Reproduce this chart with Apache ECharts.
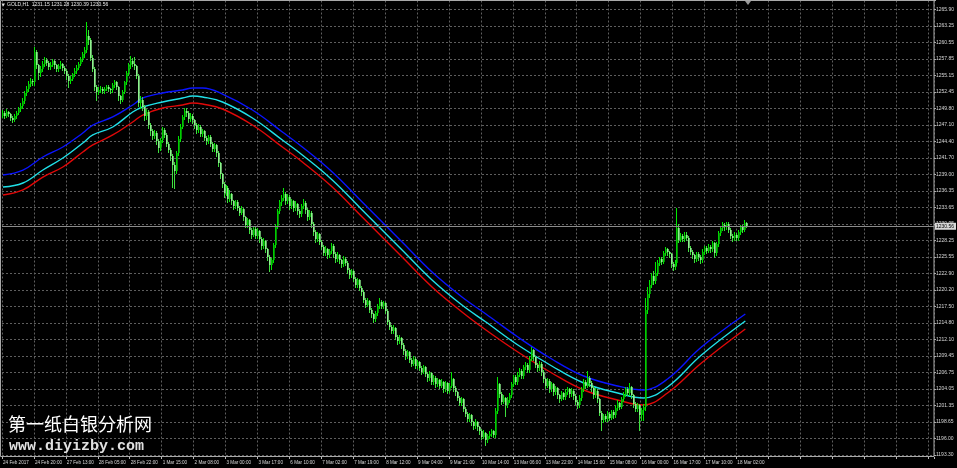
<!DOCTYPE html>
<html><head><meta charset="utf-8">
<style>html,body{margin:0;padding:0;background:#000;}#c{width:957px;height:468px;}</style>
<script src="https://cdn.jsdelivr.net/npm/echarts@6/dist/echarts.min.js"></script>
</head><body><div id="c"></div>
<script>
// x-axis tick labels (one every 16 bars)
const timeLabels = ["24 Feb 2017","24 Feb 20:00","27 Feb 13:00","28 Feb 05:00","28 Feb 22:00","1 Mar 15:00","2 Mar 08:00","3 Mar 00:00","3 Mar 17:00","6 Mar 10:00","7 Mar 02:00","7 Mar 19:00","8 Mar 12:00","9 Mar 04:00","9 Mar 21:00","10 Mar 14:00","13 Mar 06:00","13 Mar 22:00","14 Mar 15:00","15 Mar 08:00","16 Mar 00:00","16 Mar 17:00","17 Mar 10:00","18 Mar 02:00"];
// y-axis tick labels, bottom to top
const priceLabels = ["1193.30","1196.00","1198.65","1201.35","1204.05","1206.75","1209.45","1212.10","1214.80","1217.50","1220.20","1222.90","1225.55","1228.25","1230.95","1233.65","1236.35","1239.00","1241.70","1244.40","1247.10","1249.80","1252.45","1255.15","1257.85","1260.55","1263.25","1265.90"];
const priceMin = 1193.30, priceMax = 1267.335, priceStep = 2.68889;
const slotCount = 467;
// H1 candles: [open, close, low, high]
const candles = [
[1248.6,1249.0,1248.3,1249.5],[1249.0,1248.6,1248.2,1249.3],[1248.6,1249.2,1248.4,1249.7],[1249.2,1248.8,1248.5,1249.4],[1248.8,1248.2,1247.9,1249.0],
[1248.2,1247.9,1247.5,1248.5],[1247.9,1248.5,1247.7,1248.8],[1248.5,1249.0,1248.2,1249.3],[1249.0,1249.6,1248.8,1250.0],[1249.6,1250.2,1249.3,1250.6],
[1250.2,1251.0,1249.9,1251.4],[1251.0,1252.3,1250.7,1252.6],[1252.3,1253.0,1251.9,1253.4],[1253.0,1253.8,1252.6,1254.2],[1253.8,1254.2,1253.4,1254.7],
[1254.2,1254.0,1253.5,1254.6],[1254.0,1258.9,1253.6,1259.8],[1258.9,1256.8,1256.4,1259.2],[1256.8,1255.5,1254.5,1257.0],[1255.5,1256.2,1255.1,1256.6],
[1256.2,1257.0,1255.9,1257.4],[1257.0,1257.6,1256.7,1258.1],[1257.6,1257.2,1256.8,1257.9],[1257.2,1256.5,1256.1,1257.5],[1256.5,1256.9,1256.2,1257.3],
[1256.9,1257.4,1256.6,1257.8],[1257.4,1256.8,1256.4,1257.7],[1256.8,1256.2,1255.8,1257.0],[1256.2,1256.6,1255.9,1257.0],[1256.6,1257.0,1256.3,1257.5],
[1257.0,1256.4,1256.0,1257.2],[1256.4,1255.9,1255.5,1256.7],[1255.9,1255.0,1254.6,1256.1],[1255.0,1254.2,1253.3,1255.3],[1254.2,1254.6,1253.9,1255.0],
[1254.6,1255.3,1254.4,1255.6],[1255.3,1255.8,1255.0,1256.3],[1255.8,1256.4,1255.5,1256.8],[1256.4,1257.0,1256.1,1257.3],[1257.0,1257.8,1256.8,1258.2],
[1257.8,1258.6,1257.5,1258.9],[1258.6,1259.2,1258.2,1259.8],[1259.2,1261.5,1259.0,1263.8],[1261.5,1260.9,1260.2,1262.5],[1260.9,1258.0,1257.6,1261.2],
[1258.0,1256.2,1255.8,1258.4],[1256.2,1253.2,1252.8,1256.5],[1253.2,1252.4,1251.1,1253.6],[1252.4,1252.8,1252.1,1253.2],[1252.8,1253.0,1252.5,1253.4],
[1253.0,1252.6,1252.2,1253.2],[1252.6,1252.9,1252.3,1253.2],[1252.9,1253.3,1252.7,1253.6],[1253.3,1253.0,1252.6,1253.5],[1253.0,1252.7,1252.3,1253.1],
[1252.7,1253.6,1252.5,1253.9],[1253.6,1254.0,1253.3,1254.4],[1254.0,1253.2,1252.9,1254.2],[1253.2,1251.8,1251.2,1253.4],[1251.8,1251.2,1250.7,1252.0],
[1251.2,1252.5,1250.9,1252.8],[1252.5,1254.0,1252.2,1254.3],[1254.0,1255.5,1253.7,1255.8],[1255.5,1256.8,1255.2,1257.1],[1256.8,1257.5,1256.4,1258.3],
[1257.5,1257.0,1256.6,1257.9],[1257.0,1256.6,1256.2,1258.1],[1256.6,1255.0,1254.7,1256.9],[1255.0,1250.6,1250.2,1255.3],[1250.6,1251.2,1249.8,1251.7],
[1251.2,1250.0,1249.5,1251.6],[1250.0,1248.5,1247.9,1250.3],[1248.5,1249.2,1248.0,1249.7],[1249.2,1247.0,1246.5,1249.5],[1247.0,1246.0,1245.4,1247.3],
[1246.0,1245.2,1244.8,1246.4],[1245.2,1245.8,1244.9,1246.2],[1245.8,1244.5,1244.0,1246.0],[1244.5,1243.3,1242.7,1244.8],[1243.3,1244.6,1243.0,1245.0],
[1244.6,1246.3,1244.3,1246.8],[1246.3,1245.5,1245.1,1246.6],[1245.5,1244.0,1243.6,1245.8],[1244.0,1243.0,1242.6,1244.3],[1243.0,1242.0,1241.4,1243.3],
[1242.0,1240.5,1237.0,1242.3],[1240.5,1239.5,1236.8,1241.0],[1239.5,1242.5,1239.2,1242.8],[1242.5,1244.8,1242.2,1245.2],[1244.8,1246.8,1244.5,1247.2],
[1246.8,1248.3,1246.5,1248.7],[1248.3,1249.4,1248.0,1249.9],[1249.4,1249.0,1248.6,1249.8],[1249.0,1248.0,1247.6,1249.3],[1248.0,1248.6,1247.7,1249.0],
[1248.6,1247.8,1247.4,1248.9],[1247.8,1247.0,1246.6,1248.1],[1247.0,1246.2,1245.8,1247.3],[1246.2,1246.8,1245.9,1247.2],[1246.8,1245.6,1245.2,1247.0],
[1245.6,1246.0,1245.3,1246.4],[1246.0,1245.0,1244.6,1246.3],[1245.0,1244.4,1244.0,1245.3],[1244.4,1245.1,1244.1,1245.5],[1245.1,1244.0,1243.6,1245.4],
[1244.0,1243.2,1242.8,1244.3],[1243.2,1243.8,1242.9,1244.2],[1243.8,1242.5,1242.0,1244.0],[1242.5,1240.8,1240.3,1242.8],[1240.8,1239.0,1238.5,1241.1],
[1239.0,1237.5,1237.0,1239.3],[1237.5,1236.0,1235.4,1237.8],[1236.0,1236.8,1235.6,1237.2],[1236.8,1235.0,1234.5,1237.1],[1235.0,1235.8,1234.7,1236.4],
[1235.8,1234.6,1234.2,1236.0],[1234.6,1233.8,1233.4,1234.9],[1233.8,1234.5,1233.5,1234.9],[1234.5,1233.6,1233.2,1234.8],[1233.6,1232.8,1232.4,1233.9],
[1232.8,1233.4,1232.5,1233.8],[1233.4,1232.0,1231.6,1233.6],[1232.0,1230.8,1230.4,1232.3],[1230.8,1231.5,1230.5,1231.9],[1231.5,1230.0,1229.5,1231.7],
[1230.0,1229.2,1228.7,1230.3],[1229.2,1230.1,1228.9,1230.5],[1230.1,1229.0,1228.6,1230.4],[1229.0,1229.8,1228.7,1230.3],[1229.8,1228.5,1228.0,1230.0],
[1228.5,1227.3,1226.8,1228.8],[1227.3,1228.2,1227.0,1228.6],[1228.2,1226.8,1226.3,1228.4],[1226.8,1225.5,1225.0,1227.1],[1225.5,1224.2,1223.3,1225.8],
[1224.2,1225.0,1223.6,1225.4],[1225.0,1227.5,1224.7,1227.9],[1227.5,1230.5,1227.2,1230.9],[1230.5,1233.0,1230.2,1233.4],[1233.0,1234.5,1232.7,1234.9],
[1234.5,1235.2,1234.1,1235.7],[1235.2,1235.8,1234.8,1236.8],[1235.8,1234.6,1234.2,1236.1],[1234.6,1235.4,1234.3,1235.8],[1235.4,1233.8,1233.4,1235.6],
[1233.8,1234.6,1233.5,1235.0],[1234.6,1233.5,1233.1,1234.9],[1233.5,1234.2,1233.2,1234.6],[1234.2,1233.0,1232.6,1234.4],[1233.0,1232.5,1232.1,1233.3],
[1232.5,1233.8,1232.2,1234.2],[1233.8,1234.4,1233.5,1235.0],[1234.4,1233.2,1232.8,1234.6],[1233.2,1232.0,1231.6,1233.5],[1232.0,1232.8,1231.7,1233.2],
[1232.8,1231.0,1230.5,1233.0],[1231.0,1229.6,1229.2,1231.3],[1229.6,1228.5,1228.0,1229.9],[1228.5,1229.3,1228.2,1229.7],[1229.3,1228.0,1227.6,1229.5],
[1228.0,1227.2,1226.8,1228.3],[1227.2,1226.2,1225.8,1227.5],[1226.2,1226.9,1225.9,1227.3],[1226.9,1225.8,1225.4,1227.1],[1225.8,1226.5,1225.5,1226.9],
[1226.5,1227.4,1226.2,1227.9],[1227.4,1226.0,1225.6,1227.6],[1226.0,1225.2,1224.8,1226.3],[1225.2,1225.9,1224.9,1226.3],[1225.9,1225.0,1224.6,1226.1],
[1225.0,1224.4,1224.0,1225.3],[1224.4,1225.3,1224.1,1225.7],[1225.3,1224.6,1224.2,1225.6],[1224.6,1223.5,1223.0,1224.9],[1223.5,1222.6,1222.2,1223.8],
[1222.6,1223.2,1222.3,1223.6],[1223.2,1222.0,1221.6,1223.4],[1222.0,1221.0,1220.6,1222.3],[1221.0,1221.8,1220.7,1222.2],[1221.8,1220.5,1220.1,1222.0],
[1220.5,1219.8,1219.4,1220.8],[1219.8,1218.6,1218.2,1220.1],[1218.6,1217.8,1217.4,1218.9],[1217.8,1218.4,1217.5,1218.8],[1218.4,1217.0,1216.6,1218.6],
[1217.0,1216.2,1215.8,1217.3],[1216.2,1215.5,1215.0,1216.5],[1215.5,1216.4,1215.2,1216.8],[1216.4,1217.5,1216.1,1217.9],[1217.5,1218.3,1217.2,1218.8],
[1218.3,1217.6,1217.2,1218.6],[1217.6,1218.0,1217.3,1218.4],[1218.0,1216.8,1216.4,1218.2],[1216.8,1215.0,1214.6,1217.1],[1215.0,1214.2,1213.8,1215.3],
[1214.2,1213.5,1213.1,1214.5],[1213.5,1214.0,1213.2,1214.4],[1214.0,1212.6,1212.2,1214.2],[1212.6,1211.8,1211.4,1212.9],[1211.8,1212.4,1211.5,1212.8],
[1212.4,1211.2,1210.8,1212.6],[1211.2,1210.2,1209.8,1211.5],[1210.2,1209.4,1209.0,1210.5],[1209.4,1210.0,1209.1,1210.4],[1210.0,1208.8,1208.4,1210.2],
[1208.8,1208.2,1207.8,1209.1],[1208.2,1209.0,1207.9,1209.4],[1209.0,1207.8,1207.4,1209.2],[1207.8,1208.4,1207.5,1208.8],[1208.4,1207.5,1207.1,1208.6],
[1207.5,1206.9,1206.5,1207.8],[1206.9,1207.6,1206.6,1208.0],[1207.6,1206.5,1206.1,1207.8],[1206.5,1205.8,1205.4,1206.8],[1205.8,1206.6,1205.5,1207.0],
[1206.6,1205.2,1204.8,1206.8],[1205.2,1205.9,1204.9,1206.3],[1205.9,1204.8,1204.4,1206.1],[1204.8,1205.5,1204.5,1205.9],[1205.5,1204.6,1204.2,1205.7],
[1204.6,1205.2,1204.3,1205.6],[1205.2,1204.0,1203.6,1205.4],[1204.0,1205.0,1203.7,1205.4],[1205.0,1203.8,1203.4,1205.2],[1203.8,1204.6,1203.5,1205.0],
[1204.6,1205.6,1204.3,1206.8],[1205.6,1204.2,1203.8,1205.9],[1204.2,1203.5,1203.1,1204.5],[1203.5,1202.6,1202.2,1203.8],[1202.6,1201.8,1201.4,1202.9],
[1201.8,1202.4,1201.5,1202.8],[1202.4,1200.8,1200.4,1202.6],[1200.8,1200.0,1199.6,1201.1],[1200.0,1199.2,1198.8,1200.3],[1199.2,1199.8,1198.9,1200.2],
[1199.8,1198.6,1198.2,1200.0],[1198.6,1198.0,1197.6,1198.9],[1198.0,1198.7,1197.7,1199.1],[1198.7,1197.8,1197.4,1198.9],[1197.8,1197.2,1196.8,1198.1],
[1197.2,1196.3,1195.9,1197.5],[1196.3,1196.9,1196.0,1197.3],[1196.9,1195.8,1195.0,1197.1],[1195.8,1196.4,1195.4,1196.8],[1196.4,1196.8,1196.1,1197.2],
[1196.8,1197.2,1196.4,1197.6],[1197.2,1196.6,1196.2,1197.4],[1196.6,1200.5,1196.3,1200.9],[1200.5,1204.8,1200.2,1206.0],[1204.8,1203.2,1202.8,1205.1],
[1203.2,1202.0,1201.6,1203.5],[1202.0,1202.6,1201.7,1203.0],[1202.6,1201.4,1199.6,1202.8],[1201.4,1202.3,1201.1,1202.7],[1202.3,1203.0,1202.0,1203.4],
[1203.0,1204.8,1202.7,1205.2],[1204.8,1206.0,1204.5,1206.4],[1206.0,1205.2,1204.8,1206.3],[1205.2,1206.4,1204.9,1206.8],[1206.4,1207.0,1206.1,1207.4],
[1207.0,1206.2,1205.8,1207.3],[1206.2,1207.6,1205.9,1208.0],[1207.6,1208.0,1207.3,1208.4],[1208.0,1207.2,1206.8,1208.3],[1207.2,1209.0,1206.9,1209.4],
[1209.0,1210.4,1208.7,1210.9],[1210.4,1209.2,1208.8,1210.6],[1209.2,1208.0,1207.6,1209.5],[1208.0,1207.4,1207.0,1208.3],[1207.4,1208.2,1207.1,1208.6],
[1208.2,1206.8,1206.4,1208.4],[1206.8,1205.6,1205.2,1207.1],[1205.6,1204.6,1204.2,1205.9],[1204.6,1205.4,1204.3,1205.8],[1205.4,1204.0,1203.6,1205.6],
[1204.0,1204.8,1203.7,1205.2],[1204.8,1203.5,1203.1,1205.0],[1203.5,1204.2,1203.2,1204.6],[1204.2,1203.0,1202.6,1204.4],[1203.0,1202.5,1202.0,1203.3],
[1202.5,1203.4,1202.2,1203.8],[1203.4,1202.8,1202.4,1203.6],[1202.8,1203.6,1202.5,1204.0],[1203.6,1204.0,1203.3,1204.3],[1204.0,1203.2,1202.8,1204.2],
[1203.2,1203.8,1202.9,1204.2],[1203.8,1202.9,1202.5,1204.0],[1202.9,1202.0,1201.6,1203.2],[1202.0,1201.5,1201.0,1202.3],[1201.5,1202.6,1201.2,1203.0],
[1202.6,1204.0,1202.3,1204.4],[1204.0,1205.2,1203.7,1205.6],[1205.2,1204.6,1204.2,1205.5],[1204.6,1205.8,1204.3,1207.0],[1205.8,1205.0,1204.6,1206.1],
[1205.0,1204.2,1203.8,1205.3],[1204.2,1203.0,1202.6,1204.5],[1203.0,1203.8,1202.7,1204.2],[1203.8,1202.4,1202.0,1204.0],[1202.4,1200.2,1199.8,1202.6],
[1200.2,1199.0,1197.4,1200.5],[1199.0,1199.6,1198.7,1200.0],[1199.6,1199.2,1198.8,1199.9],[1199.2,1200.0,1198.9,1200.4],[1200.0,1199.4,1199.0,1200.3],
[1199.4,1200.3,1199.1,1200.7],[1200.3,1199.8,1199.4,1200.6],[1199.8,1201.0,1199.5,1201.4],[1201.0,1201.8,1200.7,1202.2],[1201.8,1201.2,1200.8,1202.0],
[1201.2,1202.4,1200.9,1202.8],[1202.4,1203.2,1202.1,1203.6],[1203.2,1204.0,1202.9,1204.4],[1204.0,1203.4,1203.0,1204.3],[1203.4,1204.4,1203.1,1205.0],
[1204.4,1203.0,1202.6,1204.6],[1203.0,1201.6,1201.2,1203.3],[1201.6,1200.8,1200.4,1201.9],[1200.8,1201.4,1200.5,1201.8],[1201.4,1199.8,1197.4,1201.6],
[1199.8,1200.6,1199.0,1201.0],[1200.6,1201.2,1199.0,1201.6],[1201.2,1217.0,1200.6,1218.8],[1217.0,1219.5,1216.4,1220.6],[1219.5,1221.0,1219.0,1221.8],
[1221.0,1222.4,1220.6,1223.0],[1222.4,1221.6,1221.2,1223.2],[1221.6,1223.0,1221.3,1224.7],[1223.0,1224.6,1222.7,1225.0],[1224.6,1225.2,1224.2,1225.6],
[1225.2,1224.8,1224.4,1225.5],[1224.8,1226.2,1224.5,1226.6],[1226.2,1226.8,1225.9,1227.2],[1226.8,1226.3,1225.9,1227.0],[1226.3,1226.0,1225.6,1226.6],
[1226.0,1224.4,1224.0,1226.2],[1224.4,1223.9,1223.4,1224.7],[1223.9,1224.6,1223.6,1225.0],[1224.6,1230.2,1224.3,1233.5],[1230.2,1228.4,1228.0,1231.0],
[1228.4,1229.0,1228.1,1229.4],[1229.0,1228.5,1228.1,1229.3],[1228.5,1229.2,1228.2,1229.6],[1229.2,1228.7,1228.3,1229.6],[1228.7,1227.0,1226.6,1229.0],
[1227.0,1226.4,1226.0,1227.3],[1226.4,1225.8,1225.4,1226.7],[1225.8,1225.2,1224.8,1226.1],[1225.2,1226.0,1224.9,1226.4],[1226.0,1225.5,1225.1,1226.3],
[1225.5,1225.0,1224.6,1225.8],[1225.0,1226.4,1224.7,1226.8],[1226.4,1227.0,1226.1,1227.4],[1227.0,1226.6,1226.2,1227.3],[1226.6,1227.2,1226.3,1227.6],
[1227.2,1226.8,1226.4,1227.5],[1226.8,1227.8,1226.5,1228.2],[1227.8,1226.2,1225.6,1228.0],[1226.2,1227.6,1225.9,1228.0],[1227.6,1229.4,1227.3,1229.8],
[1229.4,1230.2,1229.1,1230.6],[1230.2,1230.8,1229.9,1231.3],[1230.8,1230.4,1230.0,1231.1],[1230.4,1231.0,1230.1,1231.3],[1231.0,1230.0,1229.6,1231.2],
[1230.0,1229.0,1228.6,1230.3],[1229.0,1228.6,1228.2,1229.3],[1228.6,1229.2,1228.3,1229.6],[1229.2,1228.7,1228.3,1229.5],[1228.7,1229.6,1228.4,1230.0],
[1229.6,1230.4,1229.3,1230.8],[1230.4,1230.0,1229.6,1230.7],[1230.0,1231.15,1229.8,1231.5],[1231.15,1230.56,1230.39,1231.28]
];
// moving-average style bands, sampled at bar indices
const maIdx  = [0,10,20,30,40,45,55,65,70,80,90,95,100,110,125,140,150,165,180,200,215,230,242,258,275,291,308,321,333,350,372];
const maBlue = [1238.91,1239.72,1241.84,1243.47,1245.75,1247.05,1248.36,1250.31,1251.45,1252.27,1252.75,1253.08,1253.08,1252.10,1249.5,1245.92,1243.47,1239.40,1234.51,1228.00,1223.11,1219.04,1216.27,1212.52,1208.94,1206.17,1204.54,1203.89,1205.68,1210.89,1216.27];
const maCyan = [1236.95,1237.61,1239.72,1241.68,1244.12,1245.43,1246.73,1249.17,1249.99,1250.80,1251.45,1251.78,1251.62,1250.80,1248.19,1244.61,1242.17,1238.10,1233.21,1226.69,1221.81,1217.73,1214.96,1211.22,1207.80,1205.03,1203.40,1202.59,1204.38,1209.59,1215.13];
const maRed  = [1235.65,1236.47,1238.58,1240.21,1242.66,1243.80,1245.43,1247.54,1248.68,1249.82,1250.31,1250.64,1250.47,1249.66,1247.05,1243.47,1241.03,1236.95,1232.07,1225.55,1220.67,1216.59,1213.66,1210.08,1206.66,1203.89,1202.26,1201.45,1203.40,1208.29,1213.82];
const titleText = "GOLD,H1  1231.15 1231.28 1230.39 1230.56";

const slots = Array.from({length: slotCount}, (_, i) => String(i));
const pair = (ys) => maIdx.map((x, i) => [x, ys[i]]);
const lastClose = candles[candles.length - 1][1];
const candleRows = candles.map((c, i) => [i, c[0], c[1], c[2], c[3]]);

const BULL_BODY = '#00cc00', BULL_WICK = '#00ea00';
const BEAR_BODY = '#8ef28e', BEAR_WICK = '#3ede3e';

function renderCandle(params, api) {
  const i = api.value(0), o = api.value(1), c = api.value(2), l = api.value(3), h = api.value(4);
  const pTop = api.coord([i, Math.max(o, c)]);
  const pBot = api.coord([i, Math.min(o, c)]);
  const pHi = api.coord([i, h]);
  const pLo = api.coord([i, l]);
  const left = Math.round(pTop[0]) - 1;
  const bull = c >= o;
  const y0 = Math.round(pTop[1]);
  const y1 = Math.max(Math.round(pBot[1]), y0 + 1);
  return {
    type: 'group',
    children: [
      {type: 'line', shape: {x1: left + 0.5, y1: Math.round(pHi[1]), x2: left + 0.5, y2: Math.round(pLo[1]) + 1},
        style: {stroke: bull ? BULL_WICK : BEAR_WICK, lineWidth: 1}},
      {type: 'rect', shape: {x: left, y: y0, width: 1.7, height: y1 - y0},
        style: {fill: bull ? BULL_BODY : BEAR_BODY}}
    ]
  };
}

const chart = echarts.init(document.getElementById('c'), null, {renderer: 'canvas'});
const gridCol = '#5e5e5e';
chart.setOption({
  backgroundColor: '#000',
  animation: false,
  grid: {left: 0, right: 23, top: 0.5, bottom: 13, show: false},
  xAxis: {
    type: 'category', data: slots, boundaryGap: true, offset: 2,
    axisLine: {show: false},
    axisTick: {show: true, interval: 15, length: 2, lineStyle: {color: '#b8b8b8'}},
    axisLabel: {interval: 15, align: 'left', margin: 3, color: '#d8d8d8', fontSize: 4.6, fontFamily: 'Liberation Sans',
      formatter: (v, i) => timeLabels[i / 16] || ''},
    splitLine: {show: true, interval: 15, lineStyle: {color: gridCol, type: [2, 2], width: 1}}
  },
  yAxis: {
    type: 'value', position: 'right', min: priceMin, max: priceMax, interval: priceStep,
    axisLine: {show: false},
    axisTick: {show: true, length: 2, lineStyle: {color: '#b8b8b8'}},
    axisLabel: {margin: 2, color: '#d8d8d8', fontSize: 5, fontFamily: 'Liberation Sans',
      formatter: (v) => {
        const k = Math.round((v - priceMin) / priceStep);
        if (Math.abs(v - (priceMin + k * priceStep)) > 0.05) return '';
        return priceLabels[k] || '';
      }},
    splitLine: {show: true, lineStyle: {color: gridCol, type: [2, 2], width: 1}}
  },
  series: [
    {type: 'line', data: pair(maBlue), symbol: 'none', smooth: 0.4, lineStyle: {color: '#0a14ff', width: 1.4}, z: 3, emphasis: {disabled: true}},
    {type: 'line', data: pair(maCyan), symbol: 'none', smooth: 0.4, lineStyle: {color: '#20e0e8', width: 1.4}, z: 3, emphasis: {disabled: true}},
    {type: 'line', data: pair(maRed), symbol: 'none', smooth: 0.4, lineStyle: {color: '#e00808', width: 1.4}, z: 3, emphasis: {disabled: true}},
    {type: 'custom', data: candleRows, renderItem: renderCandle, z: 4, silent: true,
      encode: {x: 0, y: [1, 2, 3, 4]}},
    {type: 'line', data: [], z: 2,
      markLine: {silent: true, symbol: 'none', animation: false,
        lineStyle: {color: '#8a8a8a', type: 'solid', width: 1},
        label: {show: true, position: 'end', formatter: () => lastClose.toFixed(2), color: '#000', backgroundColor: '#d8d8d8',
          fontSize: 5, fontFamily: 'Liberation Sans', padding: [1, 2, 1, 1], distance: 1},
        data: [{yAxis: lastClose}]}
    }
  ],
  graphic: [
    {type: 'rect', z: 10, silent: true, shape: {x: 0.5, y: 0.5, width: 933.5, height: 456}, style: {fill: 'none', stroke: '#a8a8a8', lineWidth: 1}},
    {type: 'polygon', z: 10, shape: {points: [[1.5, 3.5], [5, 3.5], [3.25, 6.5]]}, style: {fill: '#e0e0e0'}},
    {type: 'text', z: 10, left: 7, top: 2.5, style: {text: titleText, fill: '#e8e8e8', fontSize: 5, fontFamily: 'Liberation Sans'}},
    {type: 'polygon', z: 10, shape: {points: [[745, 1], [751, 1], [748, 5]]}, style: {fill: '#9a9a9a'}},
    {type: 'text', z: 10, left: 8, top: 415, style: {text: '第一纸白银分析网', fill: '#ffffff', fontSize: 18, fontFamily: 'Noto Sans CJK SC'}},
    {type: 'text', z: 10, left: 9, top: 439, style: {text: 'www.diyizby.com', fill: '#e0e0e0', fontSize: 15, fontWeight: 'bold', fontFamily: 'Liberation Mono'}}
  ]
});
</script>
</body></html>
